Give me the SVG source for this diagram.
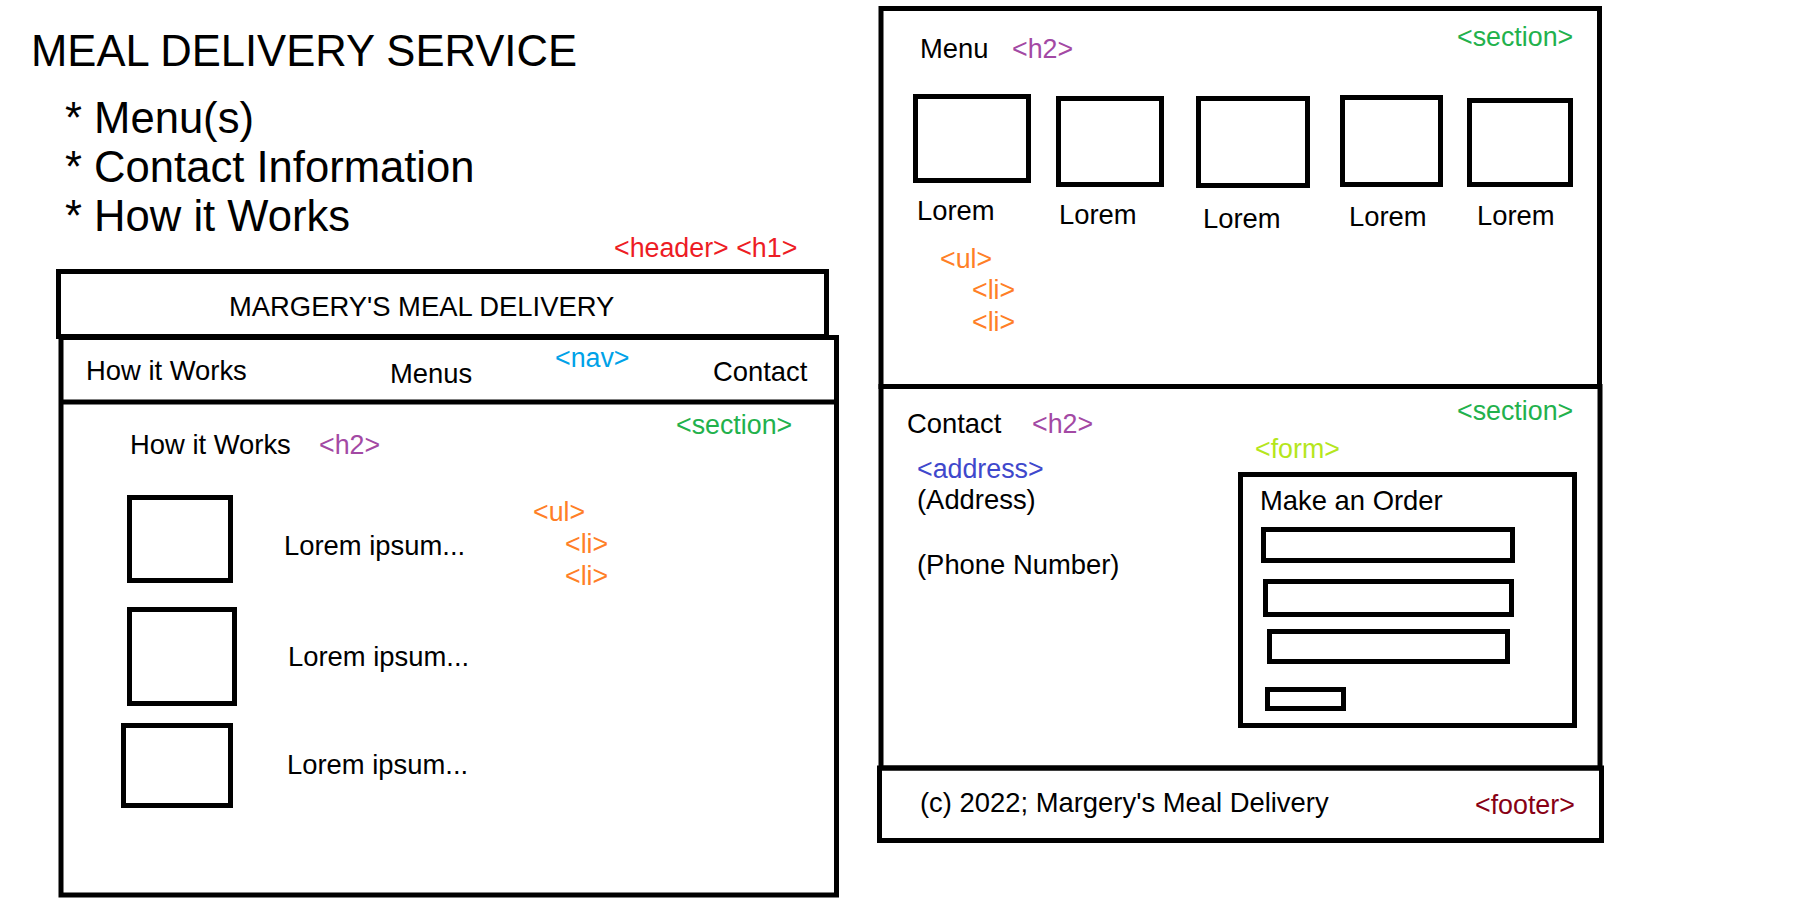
<svg xmlns="http://www.w3.org/2000/svg" width="1804" height="911" viewBox="0 0 1804 911">
<style>
rect, line { fill: none; stroke: #000; stroke-width: 5; }
text { font-family: "Liberation Sans", Arial, sans-serif; font-size: 27.4px; fill: #000; }
.big { font-size: 43.6px; }
.tag { font-size: 26.8px; }
.red { fill: #ED1C24; }
.navc { fill: #00A2E8; }
.sec { fill: #22B14C; }
.h2 { fill: #A349A4; }
.ul { fill: #FF7F27; }
.addr { fill: #3F48CC; }
.form { fill: #B5E61D; }
.foot { fill: #880015; }
</style>
<rect x="0" y="0" width="1804" height="911" style="fill:#fff;stroke:none"/>

<g id="notes">
  <text class="big" x="31" y="66">MEAL DELIVERY SERVICE</text>
  <text class="big" x="65" y="133">* Menu(s)</text>
  <text class="big" x="65" y="182">* Contact Information</text>
  <text class="big" x="65" y="231">* How it Works</text>
</g>

<g id="header">
  <text class="tag red" x="614" y="257">&lt;header&gt; &lt;h1&gt;</text>
  <rect x="58.5" y="271.5" width="768" height="65"/>
  <text x="229" y="316">MARGERY'S MEAL DELIVERY</text>
</g>

<g id="nav">
  <rect x="61" y="337.5" width="775.5" height="557.5"/>
  <line x1="61" y1="402" x2="836.5" y2="402"/>
  <text x="86" y="380">How it Works</text>
  <text x="390" y="383">Menus</text>
  <text class="tag navc" x="555" y="367">&lt;nav&gt;</text>
  <text x="713" y="381">Contact</text>
</g>

<g id="how-it-works">
  <text class="tag sec" x="676" y="434">&lt;section&gt;</text>
  <text x="130" y="454">How it Works</text>
  <text class="tag h2" x="319" y="454">&lt;h2&gt;</text>
  <rect x="129.5" y="497.5" width="101" height="83"/>
  <rect x="129.5" y="609.5" width="105" height="94"/>
  <rect x="123.5" y="725.5" width="107" height="80"/>
  <text x="284" y="555">Lorem ipsum...</text>
  <text x="288" y="666">Lorem ipsum...</text>
  <text x="287" y="774">Lorem ipsum...</text>
  <text class="tag ul" x="533" y="521">&lt;ul&gt;</text>
  <text class="tag ul" x="565" y="553">&lt;li&gt;</text>
  <text class="tag ul" x="565" y="585">&lt;li&gt;</text>
</g>

<g id="menu-section">
  <rect x="881" y="8.5" width="718.5" height="378"/>
  <text x="920" y="58">Menu</text>
  <text class="tag h2" x="1012" y="58">&lt;h2&gt;</text>
  <text class="tag sec" x="1457" y="46">&lt;section&gt;</text>
  <rect x="915.5" y="96.5" width="113" height="84"/>
  <rect x="1058.5" y="98.5" width="103" height="86"/>
  <rect x="1198.5" y="98.5" width="109" height="87"/>
  <rect x="1342.5" y="97.5" width="98" height="87"/>
  <rect x="1469.5" y="100.5" width="101" height="84"/>
  <text x="917" y="220">Lorem</text>
  <text x="1059" y="224">Lorem</text>
  <text x="1203" y="228">Lorem</text>
  <text x="1349" y="226">Lorem</text>
  <text x="1477" y="225">Lorem</text>
  <text class="tag ul" x="940" y="268">&lt;ul&gt;</text>
  <text class="tag ul" x="972" y="299">&lt;li&gt;</text>
  <text class="tag ul" x="972" y="331">&lt;li&gt;</text>
</g>

<g id="contact-section">
  <rect x="881" y="386.5" width="719" height="381.5"/>
  <text x="907" y="433">Contact</text>
  <text class="tag h2" x="1032" y="433">&lt;h2&gt;</text>
  <text class="tag sec" x="1457" y="420">&lt;section&gt;</text>
  <text class="tag addr" x="917" y="478">&lt;address&gt;</text>
  <text x="917" y="509">(Address)</text>
  <text x="917" y="574">(Phone Number)</text>
</g>

<g id="order-form">
  <text class="tag form" x="1255" y="458">&lt;form&gt;</text>
  <rect x="1240.5" y="474.5" width="334" height="251"/>
  <text x="1260" y="510">Make an Order</text>
  <rect x="1263.5" y="529.5" width="249" height="31"/>
  <rect x="1265.5" y="581.5" width="246" height="33"/>
  <rect x="1269.5" y="631.5" width="238" height="30"/>
  <rect x="1267.5" y="689.5" width="76" height="19"/>
</g>

<g id="footer">
  <rect x="879.5" y="768" width="722" height="72.5"/>
  <text x="920" y="812">(c) 2022; Margery's Meal Delivery</text>
  <text class="tag foot" x="1475" y="814">&lt;footer&gt;</text>
</g>

<g id="connectors"></g>
</svg>
